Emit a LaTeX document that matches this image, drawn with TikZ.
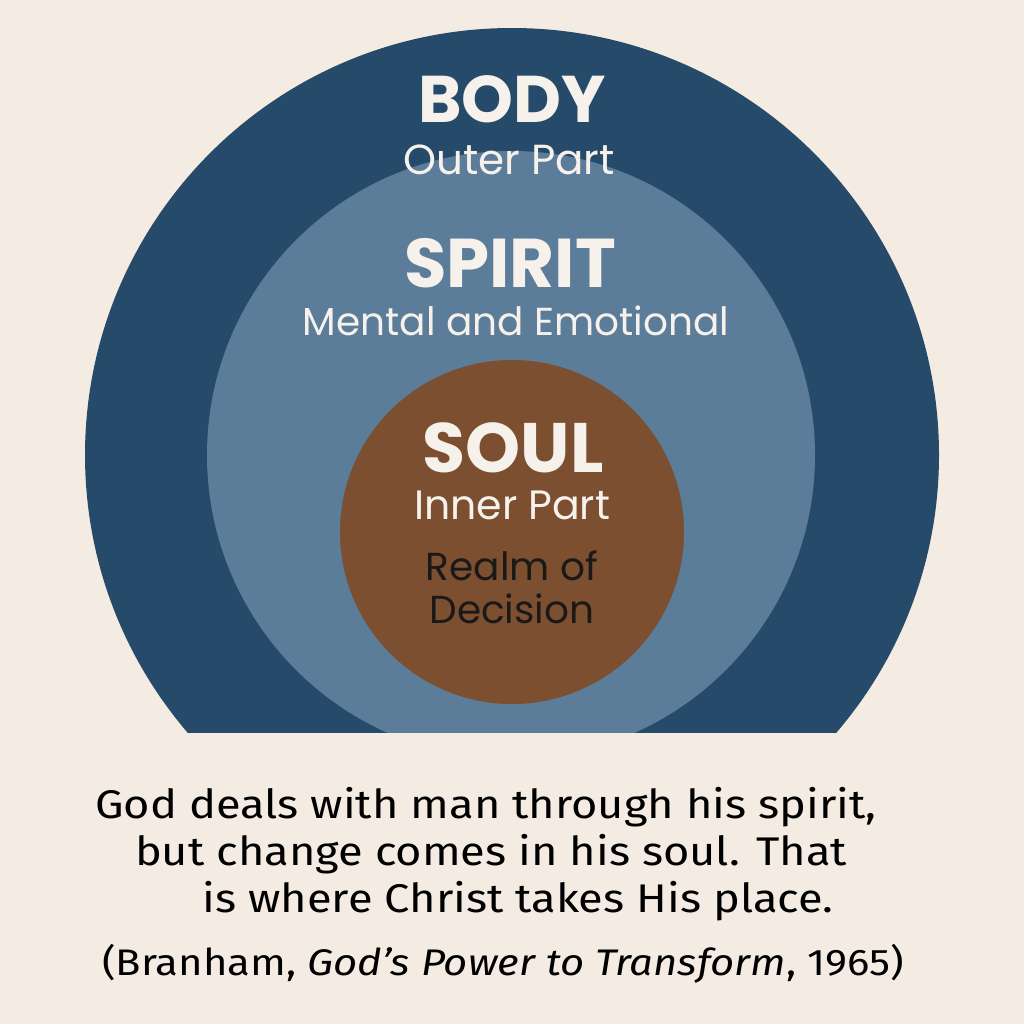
\documentclass[tikz,border=0pt]{standalone}
\usepackage{fontspec}
\setmainfont{Poppins}
\newfontfamily\quotefont[FakeStretch=1.13]{Fira Sans}
\definecolor{bgcream}{HTML}{F4ECE2}
\definecolor{bodyblue}{HTML}{264B6A}
\definecolor{spiritblue}{HTML}{5B7D99}
\definecolor{soulbrown}{HTML}{7B4F30}
\definecolor{labelwhite}{HTML}{F6F1EA}
\definecolor{darktext}{HTML}{1B1917}
\begin{document}
\begin{tikzpicture}[x=1pt,y=-1pt,
  head/.style={anchor=base, inner sep=0pt, text=labelwhite, font=\fontsize{66}{66}\selectfont\bfseries},
  sub/.style={anchor=base, inner sep=0pt, text=labelwhite, font=\fontsize{42}{42}\selectfont},
  dark/.style={anchor=base, inner sep=0pt, text=darktext, font=\fontsize{39}{39}\selectfont},
  quote/.style={anchor=base, inner sep=0pt, text=black, font=\fontsize{40}{40}\quotefont}]
\useasboundingbox (0,0) rectangle (1024,1024);
\fill[bgcream] (0,0) rectangle (1024,1024);
% nested circles, cut flat at the bottom
\begin{scope}
\clip (0,0) rectangle (1024,732);
\fill[bodyblue] (512,455) circle[radius=427pt];
\fill[spiritblue] (511,455) circle[radius=304pt];
\fill[soulbrown] (512,532) circle[radius=172pt];
\end{scope}
% labels
\node[head] (body) at (512,123) {BODY};
\node[sub] (outer) at (509,175) {Outer Part};
\node[head, font=\fontsize{69}{69}\selectfont\bfseries] (spirit) at (510,287) {SPIRIT};
\node[sub, font=\fontsize{39}{39}\selectfont] (mental) at (516,335) {Mental and Emotional};
\node[head, font=\fontsize{70}{70}\selectfont\bfseries] (soul) at (513,472) {SOUL};
\node[sub, font=\fontsize{41}{41}\selectfont] (inner) at (512,519) {Inner Part};
\node[dark] (realm) at (512,580) {Realm of};
\node[dark] (decision) at (512,623) {Decision};
% quotation
\node[quote] (q1) at (486,818) {God deals with man through his spirit,};
\node[quote] (q2) at (491,865) {but change comes in his soul. That};
\node[quote] (q3) at (518,912) {is where Christ takes His place.};
\node[quote, font=\fontsize{37}{37}\quotefont] (cite) at (503,975) {(Branham, \textit{God’s Power to Transform}, 1965)};
\end{tikzpicture}
\end{document}
